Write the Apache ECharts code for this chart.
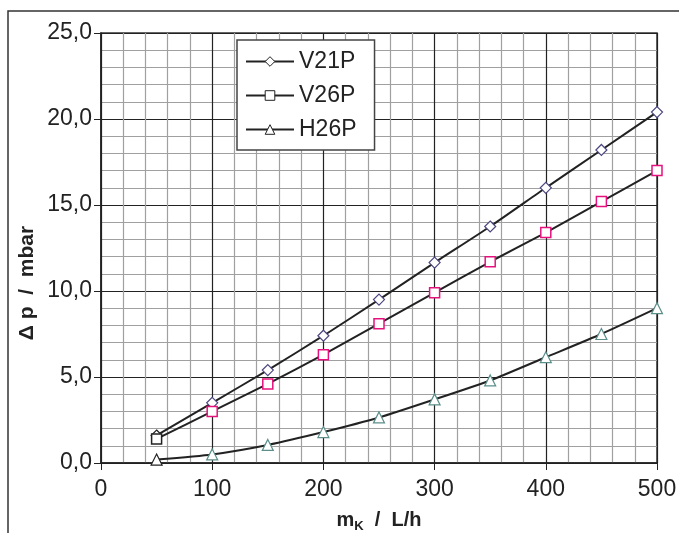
<!DOCTYPE html>
<html>
<head>
<meta charset="utf-8">
<script src="https://cdn.jsdelivr.net/npm/echarts@6/dist/echarts.min.js"></script>
<style>
  html, body { margin: 0; padding: 0; background: #fff; }
  #chart { width: 679px; height: 533px; }
</style>
</head>
<body>
<div id="chart"></div>
<script>
  // flow rate m_K in L/h
  var flow = [50, 100, 150, 200, 250, 300, 350, 400, 450, 500];
  // pressure drop in mbar
  var v21p = [1.6, 3.5, 5.4, 7.4, 9.5, 11.65, 13.75, 16.0, 18.2, 20.4];
  var v26p = [1.4, 3.0, 4.6, 6.3, 8.1, 9.9, 11.7, 13.4, 15.2, 17.0];
  var h26p = [0.2, 0.5, 1.05, 1.8, 2.65, 3.7, 4.8, 6.15, 7.5, 9.0];
  var seriesNames = ['V21P', 'V26P', 'H26P'];

  var chart = echarts.init(document.getElementById('chart'));

  function pairs(vals, firstColor) {
    return vals.map(function (v, i) {
      var item = { value: [flow[i], v] };
      if (i === 0) {
        item.itemStyle = { borderColor: firstColor };
      }
      return item;
    });
  }

  var font = '"Liberation Sans", Arial, sans-serif';

  chart.setOption({
    animation: false,
    textStyle: { fontFamily: font },
    graphic: [
      {
        type: 'rect',
        shape: { x: 8, y: 11, width: 720, height: 600 },
        style: { fill: 'none', stroke: '#333', lineWidth: 1.5 },
        silent: true
      },
      {
        // y axis title sits a bit below the middle of the axis
        type: 'text',
        x: 27,
        y: 283,
        rotation: Math.PI / 2,
        style: {
          text: 'Δ p  /  mbar',
          fontSize: 21,
          fontWeight: 'bold',
          fontFamily: font,
          fill: '#222',
          align: 'center',
          verticalAlign: 'middle'
        }
      }
    ],
    grid: {
      left: 101,
      right: 22,
      top: 33,
      bottom: 70,
      outerBoundsMode: 'none',
      show: true,
      borderColor: '#333',
      borderWidth: 1.5
    },
    legend: {
      orient: 'vertical',
      left: 237,
      top: 40,
      padding: [10, 18, 9, 8],
      backgroundColor: '#fff',
      borderColor: '#444',
      borderWidth: 1.5,
      itemWidth: 48,
      itemHeight: 12,
      itemGap: 11,
      data: seriesNames,
      lineStyle: { color: '#222', width: 2 },
      itemStyle: { color: '#fff', borderColor: '#222', borderWidth: 1 },
      textStyle: { fontSize: 23, color: '#222', fontFamily: font }
    },
    xAxis: {
      type: 'value',
      min: 0,
      max: 500,
      interval: 100,
      name: '{b|m}{s|K}{b|  /  L/h}',
      nameLocation: 'middle',
      nameGap: 44,
      nameTextStyle: {
        rich: {
          b: { fontSize: 20, fontWeight: 'bold', color: '#222', fontFamily: font, lineHeight: 26 },
          s: { fontSize: 13, fontWeight: 'bold', color: '#222', fontFamily: font, lineHeight: 26, verticalAlign: 'bottom' }
        }
      },
      axisLine: { lineStyle: { color: '#222', width: 1.5 } },
      axisTick: { show: true, length: 7, lineStyle: { color: '#222' } },
      axisLabel: { fontSize: 23, color: '#222', margin: 15 },
      splitLine: { lineStyle: { color: '#222', width: 1.2 } },
      minorTick: { show: false, splitNumber: 5 },
      minorSplitLine: { show: true, lineStyle: { color: '#a0a0a0', width: 1.2 } }
    },
    yAxis: {
      type: 'value',
      min: 0,
      max: 25,
      interval: 5,
      axisLine: { show: true, lineStyle: { color: '#222', width: 1.5 } },
      axisTick: { show: true, length: 7, lineStyle: { color: '#222' } },
      axisLabel: {
        fontSize: 23,
        color: '#222',
        margin: 9,
        formatter: function (v) { return v.toFixed(1).replace('.', ','); }
      },
      splitLine: { lineStyle: { color: '#222', width: 1.2 } },
      minorTick: { show: false, splitNumber: 5 },
      minorSplitLine: { show: true, lineStyle: { color: '#a0a0a0', width: 1.2 } }
    },
    series: [
      {
        name: 'V21P',
        type: 'line',
        smooth: 0.2,
        symbol: 'diamond',
        symbolSize: 11,
        lineStyle: { color: '#222', width: 2 },
        itemStyle: { color: '#fff', borderColor: '#4b4680', borderWidth: 1.2 },
        data: pairs(v21p, '#222')
      },
      {
        name: 'V26P',
        type: 'line',
        smooth: 0.2,
        symbol: 'rect',
        symbolSize: 10,
        lineStyle: { color: '#222', width: 2 },
        itemStyle: { color: '#fff', borderColor: '#e5127d', borderWidth: 1.5 },
        data: pairs(v26p, '#222')
      },
      {
        name: 'H26P',
        type: 'line',
        smooth: 0.2,
        symbol: 'triangle',
        symbolSize: 11,
        lineStyle: { color: '#222', width: 2 },
        itemStyle: { color: '#fff', borderColor: '#5b8f8a', borderWidth: 1.2 },
        data: pairs(h26p, '#222')
      }
    ]
  });
</script>
</body>
</html>
